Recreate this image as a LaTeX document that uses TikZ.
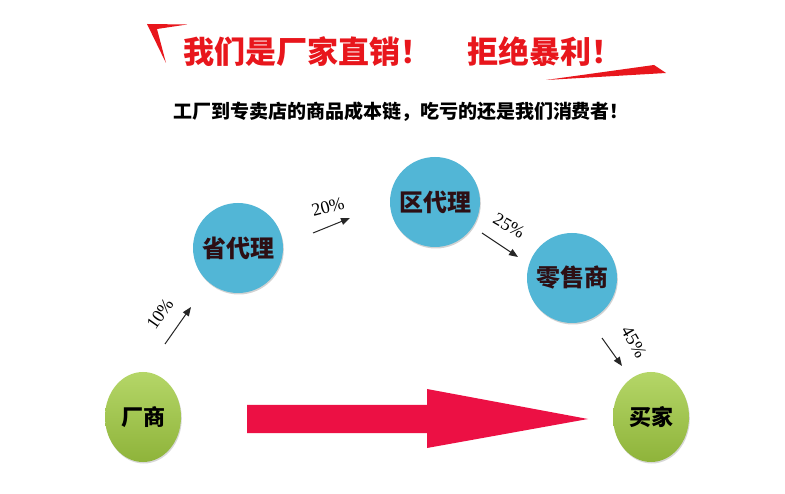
\documentclass[tikz,border=0pt]{standalone}
\usepackage{fontspec}
\setmainfont{Liberation Serif}
\newfontfamily\cjk{Noto Sans CJK SC}
\usetikzlibrary{shadows,arrows.meta,shapes.geometric}
\definecolor{titlered}{RGB}{232,22,28}
\definecolor{arrowred}{RGB}{236,16,68}
\definecolor{ballblue}{RGB}{82,182,214}
\definecolor{ballgreen}{RGB}{162,204,66}
\definecolor{balltext}{RGB}{45,15,20}
\tikzset{
  bluenode/.style={circle, minimum size=90pt, inner sep=0pt, fill=ballblue,
    drop shadow={opacity=0.35, shadow xshift=0.8pt, shadow yshift=-1.5pt},
    font=\cjk\bfseries\fontsize{24pt}{24pt}\selectfont, text=balltext},
  greennode/.style={ellipse, minimum width=76pt, minimum height=90pt, inner sep=0pt,
    top color=ballgreen!80!white, bottom color=ballgreen!88!black,
    drop shadow={opacity=0.3, shadow xshift=0.8pt, shadow yshift=-1.5pt},
    font=\cjk\bfseries\fontsize{22pt}{22pt}\selectfont, text=black},
  pct/.style={font=\fontsize{18pt}{18pt}\selectfont, inner sep=0pt},
  smallarrow/.style={-{Triangle[length=9pt,width=7pt]}, line width=1pt, black!85},
  titletext/.style={font=\cjk\bfseries\fontsize{31pt}{31pt}\selectfont, text=titlered, inner sep=0pt},
}
\begin{document}
\begin{tikzpicture}[x=1pt,y=-1pt]
\useasboundingbox (0,0) rectangle (785,494);
\fill[white] (0,0) rectangle (785,494);
% title decorations
\fill[titlered] (147,24) -- (187,24.5) -- (157,29) -- (166,63) -- cycle;
\fill[titlered] (546,80) -- (654,65) -- (666,73) -- cycle;
\node[titletext] (t1) at (307,52) {我们是厂家直销！};
\node[titletext] (t2) at (545,52) {拒绝暴利！};
\node[font=\cjk\bfseries\fontsize{19pt}{19pt}\selectfont, inner sep=0pt] (sub) at (401,112)
  {工厂到专卖店的商品成本链，吃亏的还是我们消费者！};
% nodes
\node[bluenode] (sheng) at (238,248) {省代理};
\node[bluenode] (qu) at (435,202) {区代理};
\node[bluenode] (ling) at (572,278) {零售商};
\node[greennode] (chang) at (143,417) {厂商};
\node[greennode] (mai) at (651,417) {买家};
% big arrow
\coordinate (bs) at (247,419);
\coordinate (bt) at (588,419);
\fill[arrowred] (bs) ++(0,-14) -- (427,405) -- (427,389) -- (bt) -- (427,448) -- (427,433) -- (247,433) -- cycle;
% small arrows
\coordinate (a1s) at (165,344);
\coordinate (a1e) at (191,307);
\draw[smallarrow] (a1s) -- (a1e);
\node[pct, rotate=55] (p1) at (160,314) {10\%};
\coordinate (a2s) at (313,233);
\coordinate (a2e) at (350,218);
\draw[smallarrow] (a2s) -- (a2e);
\node[pct, rotate=15] (p2) at (328,207) {20\%};
\coordinate (a3s) at (482,233);
\coordinate (a3e) at (518,257);
\draw[smallarrow] (a3s) -- (a3e);
\node[pct, rotate=-30] (p3) at (509,226) {25\%};
\coordinate (a4s) at (602,338);
\coordinate (a4e) at (622,366);
\draw[smallarrow] (a4s) -- (a4e);
\node[pct, rotate=-60] (p4) at (634,342) {45\%};
\end{tikzpicture}
\end{document}
